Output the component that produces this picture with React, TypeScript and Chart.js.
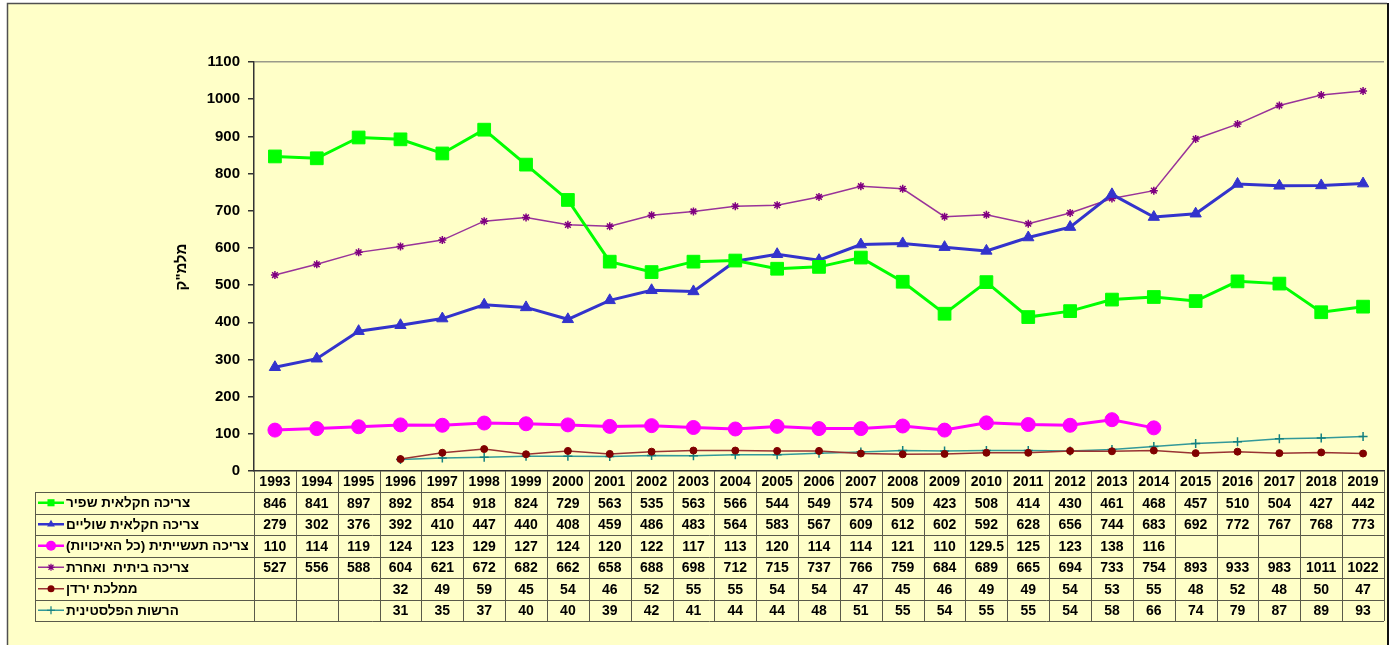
import React, { useEffect, useRef } from "react";
import { Chart, registerables } from "chart.js";

Chart.register(...registerables);

const years = [
  "1993", "1994", "1995", "1996", "1997", "1998", "1999", "2000", "2001", "2002",
  "2003", "2004", "2005", "2006", "2007", "2008", "2009", "2010", "2011", "2012",
  "2013", "2014", "2015", "2016", "2017", "2018", "2019",
];

const yTicks = [0, 100, 200, 300, 400, 500, 600, 700, 800, 900, 1000, 1100];

const yTitle = "מלמ\"ק";

const agriFresh = [846, 841, 897, 892, 854, 918, 824, 729, 563, 535, 563, 566, 544, 549, 574, 509, 423, 508, 414, 430, 461, 468, 457, 510, 504, 427, 442];
const agriBrackish = [279, 302, 376, 392, 410, 447, 440, 408, 459, 486, 483, 564, 583, 567, 609, 612, 602, 592, 628, 656, 744, 683, 692, 772, 767, 768, 773];
const industrial = [110, 114, 119, 124, 123, 129, 127, 124, 120, 122, 117, 113, 120, 114, 114, 121, 110, 129.5, 125, 123, 138, 116, null, null, null, null, null];
const domestic = [527, 556, 588, 604, 621, 672, 682, 662, 658, 688, 698, 712, 715, 737, 766, 759, 684, 689, 665, 694, 733, 754, 893, 933, 983, 1011, 1022];
const jordan = [null, null, null, 32, 49, 59, 45, 54, 46, 52, 55, 55, 54, 54, 47, 45, 46, 49, 49, 54, 53, 55, 48, 52, 48, 50, 47];
const palestinian = [null, null, null, 31, 35, 37, 40, 40, 39, 42, 41, 44, 44, 48, 51, 55, 54, 55, 55, 54, 58, 66, 74, 79, 87, 89, 93];

const seriesNames = [
  "צריכה חקלאית שפיר",
  "צריכה חקלאית שוליים",
  "צריכה תעשייתית (כל האיכויות)",
  "צריכה ביתית  ואחרת",
  "ממלכת ירדן",
  "הרשות הפלסטינית",
];

const W = 1394;
const H = 645;
const FONT = "'Liberation Sans', Arial, sans-serif";

const seriesStyles = [
  { line: "#00FF00", point: "#00FF00", style: "rect", r: 9, w: 3, lr: 5 },
  { line: "#3333CC", point: "#3333CC", style: "triangle", r: 6.5, w: 3, lr: 4.5 },
  { line: "#FF00FF", point: "#FF00FF", style: "circle", r: 7, w: 3, lr: 5 },
  { line: "#993399", point: "#800080", style: "star", r: 4, w: 1.5, lr: 3.5 },
  { line: "#993333", point: "#800000", style: "circle", r: 3.5, w: 1.5, lr: 3.5 },
  { line: "#339999", point: "#138080", style: "cross", r: 4.5, w: 1.5, lr: 4 },
];

const seriesData = [agriFresh, agriBrackish, industrial, domestic, jordan, palestinian];

const TABLE_TOP = 471;
const HEADER_H = 21;
const ROW_H = 21.5;
const LEGEND_LEFT = 35;

function drawMarker(ctx: CanvasRenderingContext2D, style: string, x: number, y: number, r: number, color: string) {
  ctx.save();
  ctx.fillStyle = color;
  ctx.strokeStyle = color;
  ctx.lineWidth = 1.2;
  ctx.beginPath();
  if (style === "rect") {
    const s = Math.SQRT1_2 * r;
    ctx.rect(x - s, y - s, 2 * s, 2 * s);
    ctx.fill();
  } else if (style === "triangle") {
    const h = r * 1.5;
    const half = r * Math.sqrt(3) / 2;
    ctx.moveTo(x, y - r);
    ctx.lineTo(x + half, y - r + h);
    ctx.lineTo(x - half, y - r + h);
    ctx.closePath();
    ctx.fill();
  } else if (style === "circle") {
    ctx.arc(x, y, r, 0, Math.PI * 2);
    ctx.fill();
  } else if (style === "star") {
    ctx.moveTo(x - r, y); ctx.lineTo(x + r, y);
    ctx.moveTo(x, y - r); ctx.lineTo(x, y + r);
    const d = r * Math.SQRT1_2;
    ctx.moveTo(x - d, y - d); ctx.lineTo(x + d, y + d);
    ctx.moveTo(x - d, y + d); ctx.lineTo(x + d, y - d);
    ctx.stroke();
  } else if (style === "cross") {
    ctx.moveTo(x - r, y); ctx.lineTo(x + r, y);
    ctx.moveTo(x, y - r); ctx.lineTo(x, y + r);
    ctx.stroke();
  }
  ctx.restore();
}

function fmt(v: number | null) {
  if (v === null || v === undefined) return "";
  return String(v);
}

const framePlugin = {
  id: "frameBg",
  beforeDraw(chart: any) {
    const ctx = chart.ctx as CanvasRenderingContext2D;
    ctx.save();
    ctx.fillStyle = "#FFFFFF";
    ctx.fillRect(0, 0, W, H);
    ctx.fillStyle = "#FFFFC8";
    ctx.fillRect(7, 3, 1380, H);
    ctx.strokeStyle = "#505050";
    ctx.lineWidth = 1.5;
    ctx.beginPath();
    ctx.moveTo(7.5, H);
    ctx.lineTo(7.5, 3.5);
    ctx.lineTo(1387, 3.5);
    ctx.stroke();
    ctx.strokeStyle = "#111111";
    ctx.lineWidth = 2;
    ctx.beginPath();
    ctx.moveTo(1388, 3);
    ctx.lineTo(1388, H);
    ctx.stroke();
    ctx.restore();
  },
  afterDraw(chart: any) {
    const ctx = chart.ctx as CanvasRenderingContext2D;
    const xs = chart.scales.x;
    const area = chart.chartArea;
    const left = area.left;
    const right = area.right;
    const n = years.length;
    const colW = (right - left) / n;
    const rowsTop = TABLE_TOP + HEADER_H;
    const bottom = rowsTop + ROW_H * seriesNames.length;

    ctx.save();
    // y-axis title
    ctx.save();
    ctx.translate(182, 267);
    ctx.rotate(-Math.PI / 2);
    ctx.direction = "rtl";
    ctx.font = `bold 15px ${FONT}`;
    ctx.fillStyle = "#000";
    ctx.textAlign = "center";
    ctx.textBaseline = "middle";
    ctx.fillText(yTitle, 0, 0);
    ctx.restore();

    // grid lines of table
    ctx.strokeStyle = "#5a5a4a";
    ctx.lineWidth = 1;
    ctx.beginPath();
    for (let i = 0; i <= n; i++) {
      const x = Math.round(left + i * colW) + 0.5;
      ctx.moveTo(x, TABLE_TOP);
      ctx.lineTo(x, bottom);
    }
    for (let k = 0; k <= seriesNames.length; k++) {
      const y = Math.round(rowsTop + k * ROW_H) + 0.5;
      ctx.moveTo(LEGEND_LEFT, y);
      ctx.lineTo(right, y);
    }
    ctx.moveTo(LEGEND_LEFT + 0.5, rowsTop);
    ctx.lineTo(LEGEND_LEFT + 0.5, bottom);
    ctx.stroke();

    // header years
    ctx.fillStyle = "#000";
    ctx.font = `bold 14px ${FONT}`;
    ctx.textAlign = "center";
    ctx.textBaseline = "middle";
    years.forEach((yr, i) => {
      const cx = xs.getPixelForValue(i);
      ctx.fillText(yr, cx, TABLE_TOP + HEADER_H / 2 + 1);
    });

    // rows
    seriesNames.forEach((name, k) => {
      const cy = rowsTop + k * ROW_H + ROW_H / 2 + 1;
      const st = seriesStyles[k];
      // legend key
      ctx.save();
      ctx.strokeStyle = st.line;
      ctx.lineWidth = Math.min(st.w, 2.5);
      ctx.beginPath();
      ctx.moveTo(38, cy - 1);
      ctx.lineTo(64, cy - 1);
      ctx.stroke();
      ctx.restore();
      drawMarker(ctx, st.style, 51, cy - 1, st.lr, st.point);
      // label
      ctx.save();
      ctx.direction = "rtl";
      ctx.textAlign = "left";
      ctx.font = `bold 13.5px ${FONT}`;
      ctx.fillStyle = "#000";
      ctx.textBaseline = "middle";
      ctx.fillText(name, 66, cy);
      ctx.restore();
      // values
      ctx.textAlign = "center";
      ctx.font = `bold 14px ${FONT}`;
      seriesData[k].forEach((v, i) => {
        const t = fmt(v as any);
        if (t) ctx.fillText(t, xs.getPixelForValue(i), cy);
      });
    });
    ctx.restore();
  },
};

export default function App() {
  const ref = useRef<HTMLCanvasElement | null>(null);

  useEffect(() => {
    const prevMargin = document.body.style.margin;
    document.body.style.margin = "0";
    if (!ref.current) return;
    const datasets = seriesNames.map((name, k) => {
      const st = seriesStyles[k];
      return {
        label: name,
        data: seriesData[k],
        borderColor: st.line,
        backgroundColor: st.point,
        borderWidth: st.w,
        pointStyle: st.style as any,
        pointRadius: st.r,
        pointBorderColor: st.point,
        pointBackgroundColor: st.point,
        pointBorderWidth: st.style === "star" || st.style === "cross" ? 1.5 : 1,
        spanGaps: false,
        tension: 0,
        fill: false,
      };
    });
    const chart = new Chart(ref.current, {
      type: "line",
      data: { labels: years, datasets },
      plugins: [framePlugin],
      options: {
        responsive: false,
        animation: false,
        devicePixelRatio: 1,
        layout: { padding: { left: 0, top: 62, right: W - 1386, bottom: H - 471 } },
        plugins: { legend: { display: false }, tooltip: { enabled: false }, title: { display: false } },
        scales: {
          x: {
            type: "category",
            offset: true,
            ticks: { display: false },
            grid: { display: false },
            border: { display: true, color: "#333", width: 1.5 },
            afterFit: (s: any) => { s.height = 0; },
          },
          y: {
            min: 0,
            max: 1100,
            afterBuildTicks: (s: any) => { s.ticks = yTicks.map((v) => ({ value: v })); },
            ticks: {
              padding: 8,
              color: "#000",
              font: { family: FONT, size: 15, weight: "bold" },
              callback: (v: any) => String(v),
            },
            grid: {
              color: (c: any) => (c.tick && c.tick.value === 1100 ? "#9a9a8a" : "rgba(0,0,0,0)"),
              tickColor: "#333",
              tickLength: 6,
              lineWidth: 1.5,
            },
            border: { display: true, color: "#333", width: 1.5 },
            afterFit: (s: any) => { s.width = 254; },
          },
        },
      } as any,
    });
    return () => {
      chart.destroy();
      document.body.style.margin = prevMargin;
    };
  }, []);

  return (
    <div style={{ position: "absolute", left: 0, top: 0, width: W, height: H, overflow: "hidden" }}>
      <canvas ref={ref} width={W} height={H} style={{ width: W, height: H, display: "block" }} />
    </div>
  );
}
